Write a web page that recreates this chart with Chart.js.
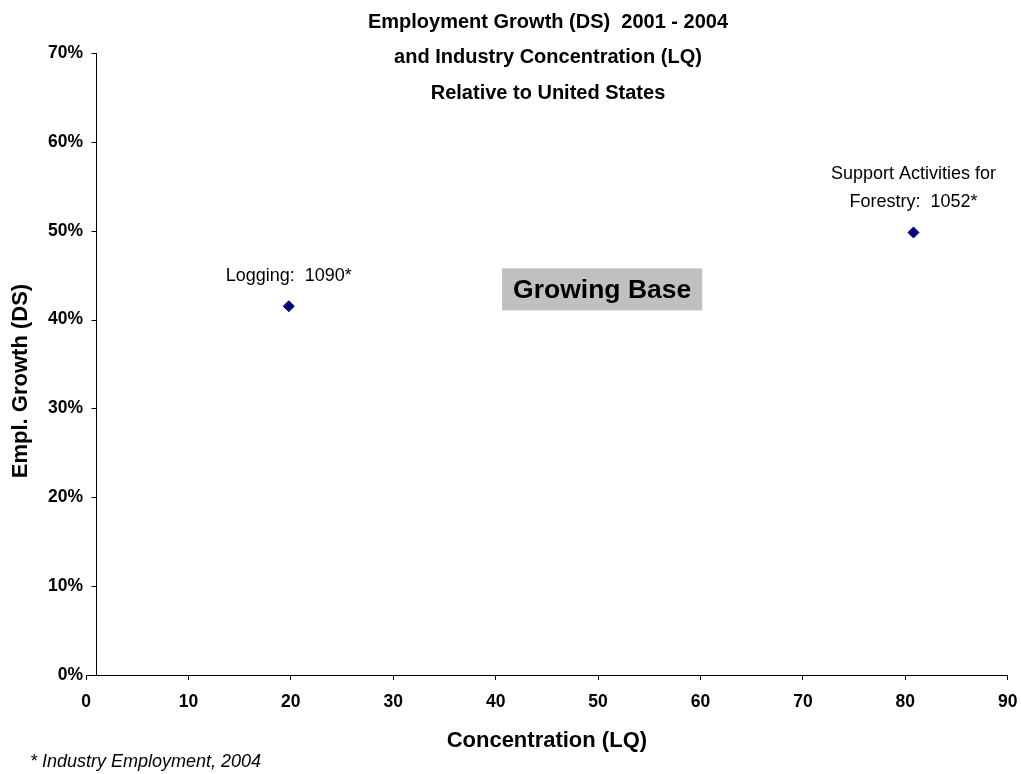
<!DOCTYPE html>
<html>
<head>
<meta charset="utf-8">
<title>Employment Growth and Industry Concentration</title>
<script src="https://cdn.jsdelivr.net/npm/chart.js@4/dist/chart.umd.min.js"></script>
<style>
  html, body { margin: 0; padding: 0; background: #fff; }
  #chart { display: block; }
</style>
</head>
<body>
<canvas id="chart" width="1021" height="774"></canvas>
<script>
// Industries (label lines), employment 2004, location quotient and employment growth (%)
const industries = [['Logging'], ['Support Activities for', 'Forestry']];
const employment = [1090, 1052];
const concentration = [19.8, 80.8];
const growth = [41.5, 49.8];

const titleLines = [
  'Employment Growth (DS)  2001 - 2004',
  'and Industry Concentration (LQ)',
  'Relative to United States'
];
const xTitle = 'Concentration (LQ)';
const yTitle = 'Empl. Growth (DS)';
const yAxisCross = 1;          // vertical axis sits at LQ = 1
const quadrantLabel = 'Growing Base';
const quadrantAt = [50.4, 43.4];
const footnote = '* Industry Employment, 2004';

const FONT = '"Liberation Sans", Arial, Helvetica, sans-serif';

// vertical axis drawn where LQ = 1, with its tick marks
const crossAxis = {
  id: 'crossAxis',
  beforeDatasetsDraw(chart) {
    const { ctx, scales: { x, y } } = chart;
    const px = Math.round(x.getPixelForValue(yAxisCross)) + 0.5;
    ctx.save();
    ctx.strokeStyle = '#000';
    ctx.lineWidth = 1;
    ctx.beginPath();
    ctx.moveTo(px, y.top);
    ctx.lineTo(px, y.bottom);
    y.ticks.forEach(t => {
      const py = Math.round(y.getPixelForValue(t.value)) + 0.5;
      ctx.moveTo(px - 5, py);
      ctx.lineTo(px, py);
    });
    ctx.stroke();
    ctx.restore();
  }
};

// titles, quadrant label, point labels and footnote
const decorations = {
  id: 'decorations',
  afterDraw(chart) {
    const { ctx, scales: { x, y } } = chart;
    ctx.save();
    ctx.fillStyle = '#000';
    ctx.textAlign = 'center';
    ctx.textBaseline = 'middle';

    ctx.font = `bold 20px ${FONT}`;
    titleLines.forEach((t, i) => ctx.fillText(t, 548, 22 + i * 35.5));

    ctx.save();
    ctx.translate(21, 381);
    ctx.rotate(-Math.PI / 2);
    ctx.font = `bold 22px ${FONT}`;
    ctx.fillText(yTitle, 0, 0);
    ctx.restore();

    // quadrant box
    ctx.font = `bold 26.5px ${FONT}`;
    const qx = x.getPixelForValue(quadrantAt[0]);
    const qy = y.getPixelForValue(quadrantAt[1]);
    const w = ctx.measureText(quadrantLabel).width + 22;
    ctx.fillStyle = '#c0c0c0';
    ctx.fillRect(qx - w / 2, qy - 21, w, 42);
    ctx.fillStyle = '#000';
    ctx.fillText(quadrantLabel, qx, qy + 1);

    // data labels above each point
    ctx.font = `18px ${FONT}`;
    chart.getDatasetMeta(0).data.forEach((p, i) => {
      const lines = industries[i].slice();
      lines[lines.length - 1] += ':  ' + employment[i] + '*';
      lines.forEach((l, j) => {
        ctx.fillText(l, p.x, p.y - 30 - (lines.length - 1 - j) * 28);
      });
    });

    ctx.font = `italic 18px ${FONT}`;
    ctx.textAlign = 'left';
    ctx.fillText(footnote, 30, 762);
    ctx.restore();
  }
};

const tickFont = { family: FONT, size: 17.5, weight: 'bold' };

new Chart(document.getElementById('chart'), {
  type: 'scatter',
  data: {
    datasets: [{
      data: concentration.map((c, i) => ({ x: c, y: growth[i] })),
      pointStyle: 'rectRot',
      pointRadius: 5.5,
      pointHoverRadius: 5.5,
      backgroundColor: '#000080',
      borderColor: '#000080',
      borderWidth: 1
    }]
  },
  options: {
    responsive: false,
    animation: false,
    events: [],
    layout: { padding: { left: 0, top: 53, right: 13.3, bottom: 0 } },
    plugins: {
      legend: { display: false },
      tooltip: { enabled: false }
    },
    scales: {
      x: {
        type: 'linear',
        position: 'bottom',
        min: 0,
        max: 90,
        ticks: { stepSize: 10, color: '#000', font: tickFont, padding: 12 },
        grid: { drawOnChartArea: false, drawTicks: true, tickLength: 5, color: '#000' },
        border: { color: '#000', width: 1 },
        title: {
          display: true,
          text: xTitle,
          color: '#000',
          font: { family: FONT, size: 22, weight: 'bold' },
          padding: { top: 0, bottom: 20 }
        },
        afterFit: s => {
          s.height = 99;
          s.paddingLeft = 0;
          s.paddingRight = 0;
        }
      },
      y: {
        type: 'linear',
        position: 'left',
        min: 0,
        max: 70,
        ticks: { stepSize: 10, color: '#000', font: tickFont, padding: 3, callback: v => v + '%' },
        grid: { display: false, drawTicks: false },
        border: { display: false },
        afterFit: s => {
          s.width = 86;
          s.paddingTop = 0;
          s.paddingBottom = 0;
        }
      }
    }
  },
  plugins: [crossAxis, decorations]
});
</script>
</body>
</html>
